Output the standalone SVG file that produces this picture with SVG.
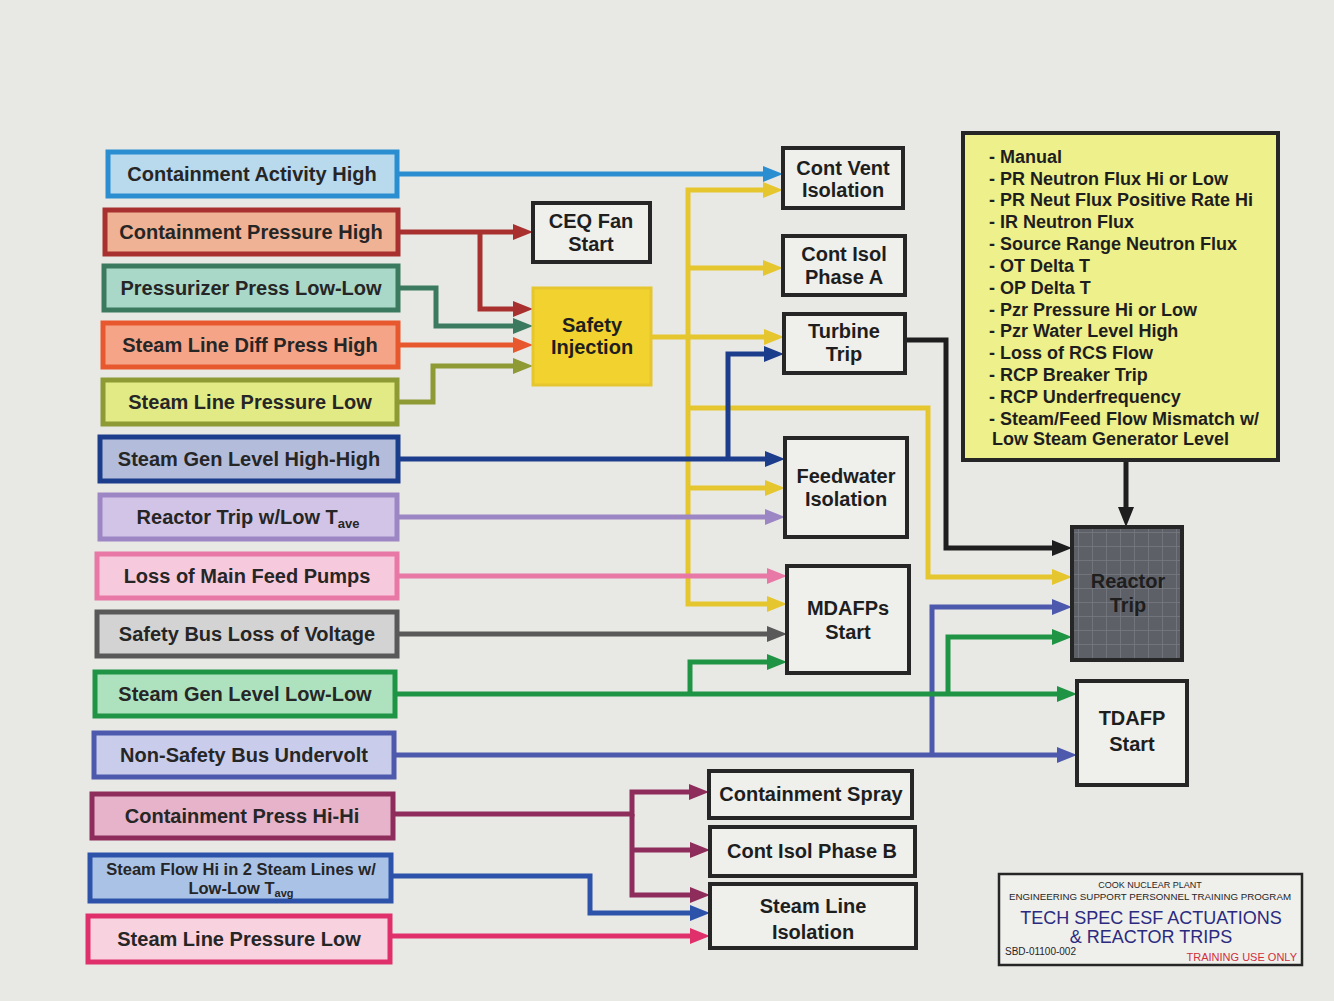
<svg xmlns="http://www.w3.org/2000/svg" width="1334" height="1001" viewBox="0 0 1334 1001">
<defs>
<style>
text{font-family:"Liberation Sans",Arial,sans-serif;font-weight:bold;fill:#262626}
.lbl{font-size:20px;text-anchor:middle}
.sm{font-size:16.5px;text-anchor:middle}
.box{font-size:20px;text-anchor:middle;fill:#1e1e1e}
.in{stroke-width:5}
.out{fill:#efefec;stroke:#262626;stroke-width:4}
.c{fill:none;stroke-width:5;stroke-linejoin:miter}
.lst{font-size:18px;fill:#1e1e1e}
.tb{font-weight:normal;text-anchor:middle}
</style>
<pattern id="grid" width="14" height="14" patternUnits="userSpaceOnUse">
<rect width="14" height="14" fill="#5e6068"/>
<path d="M0,0.5H14M0.5,0V14" stroke="#767880" stroke-width="0.8"/>
</pattern>
<marker id="mBlue" markerUnits="userSpaceOnUse" markerWidth="20" markerHeight="16" refX="6" refY="8" orient="auto"><path d="M0,0L20,8L0,16z" fill="#2b8ed0"/></marker>
<marker id="mRed" markerUnits="userSpaceOnUse" markerWidth="20" markerHeight="16" refX="6" refY="8" orient="auto"><path d="M0,0L20,8L0,16z" fill="#a8302e"/></marker>
<marker id="mTeal" markerUnits="userSpaceOnUse" markerWidth="20" markerHeight="16" refX="6" refY="8" orient="auto"><path d="M0,0L20,8L0,16z" fill="#3b7a5e"/></marker>
<marker id="mOrange" markerUnits="userSpaceOnUse" markerWidth="20" markerHeight="16" refX="6" refY="8" orient="auto"><path d="M0,0L20,8L0,16z" fill="#e8582e"/></marker>
<marker id="mOlive" markerUnits="userSpaceOnUse" markerWidth="20" markerHeight="16" refX="6" refY="8" orient="auto"><path d="M0,0L20,8L0,16z" fill="#8e9a34"/></marker>
<marker id="mYellow" markerUnits="userSpaceOnUse" markerWidth="20" markerHeight="16" refX="6" refY="8" orient="auto"><path d="M0,0L20,8L0,16z" fill="#e6c62e"/></marker>
<marker id="mNavy" markerUnits="userSpaceOnUse" markerWidth="20" markerHeight="16" refX="6" refY="8" orient="auto"><path d="M0,0L20,8L0,16z" fill="#1c3c8c"/></marker>
<marker id="mLav" markerUnits="userSpaceOnUse" markerWidth="20" markerHeight="16" refX="6" refY="8" orient="auto"><path d="M0,0L20,8L0,16z" fill="#9d86c4"/></marker>
<marker id="mPink" markerUnits="userSpaceOnUse" markerWidth="20" markerHeight="16" refX="6" refY="8" orient="auto"><path d="M0,0L20,8L0,16z" fill="#e878a6"/></marker>
<marker id="mGray" markerUnits="userSpaceOnUse" markerWidth="20" markerHeight="16" refX="6" refY="8" orient="auto"><path d="M0,0L20,8L0,16z" fill="#595959"/></marker>
<marker id="mGreen" markerUnits="userSpaceOnUse" markerWidth="20" markerHeight="16" refX="6" refY="8" orient="auto"><path d="M0,0L20,8L0,16z" fill="#1f9444"/></marker>
<marker id="mBlue2" markerUnits="userSpaceOnUse" markerWidth="20" markerHeight="16" refX="6" refY="8" orient="auto"><path d="M0,0L20,8L0,16z" fill="#4d59ac"/></marker>
<marker id="mMaroon" markerUnits="userSpaceOnUse" markerWidth="20" markerHeight="16" refX="6" refY="8" orient="auto"><path d="M0,0L20,8L0,16z" fill="#8e2c5c"/></marker>
<marker id="mBlue3" markerUnits="userSpaceOnUse" markerWidth="20" markerHeight="16" refX="6" refY="8" orient="auto"><path d="M0,0L20,8L0,16z" fill="#2c52aa"/></marker>
<marker id="mCrimson" markerUnits="userSpaceOnUse" markerWidth="20" markerHeight="16" refX="6" refY="8" orient="auto"><path d="M0,0L20,8L0,16z" fill="#e0306c"/></marker>
<marker id="mBlack" markerUnits="userSpaceOnUse" markerWidth="20" markerHeight="16" refX="6" refY="8" orient="auto"><path d="M0,0L20,8L0,16z" fill="#1e1e1e"/></marker>
</defs>
<rect width="1334" height="1001" fill="#e8e8e5"/>

<g id="connectors">
<path class="c" stroke="#2b8ed0" d="M397,174H769" marker-end="url(#mBlue)"/>
<path class="c" stroke="#a8302e" d="M398,232H519" marker-end="url(#mRed)"/>
<path class="c" stroke="#a8302e" d="M480,232V309H519" marker-end="url(#mRed)"/>
<path class="c" stroke="#3b7a5e" d="M398,288H436V326H519" marker-end="url(#mTeal)"/>
<path class="c" stroke="#e8582e" d="M398,345H519" marker-end="url(#mOrange)"/>
<path class="c" stroke="#8e9a34" d="M397,402H433V366H519" marker-end="url(#mOlive)"/>
<path class="c" stroke="#e6c62e" d="M651,337H770" marker-end="url(#mYellow)"/>
<path class="c" stroke="#e6c62e" d="M688,337V190H769" marker-end="url(#mYellow)"/>
<path class="c" stroke="#e6c62e" d="M688,268H769" marker-end="url(#mYellow)"/>
<path class="c" stroke="#e6c62e" d="M688,337V604H773" marker-end="url(#mYellow)"/>
<path class="c" stroke="#e6c62e" d="M688,488H771" marker-end="url(#mYellow)"/>
<path class="c" stroke="#e6c62e" d="M688,408H928V577H1058" marker-end="url(#mYellow)"/>
<path class="c" stroke="#1e1e1e" d="M905,340H946V548H1058" marker-end="url(#mBlack)"/>
<path class="c" stroke="#1e1e1e" d="M1126,460V513" marker-end="url(#mBlack)"/>
<path class="c" stroke="#1c3c8c" d="M398,459H771" marker-end="url(#mNavy)"/>
<path class="c" stroke="#1c3c8c" d="M728,459V354H770" marker-end="url(#mNavy)"/>
<path class="c" stroke="#9d86c4" d="M397,517H771" marker-end="url(#mLav)"/>
<path class="c" stroke="#e878a6" d="M397,576H773" marker-end="url(#mPink)"/>
<path class="c" stroke="#595959" d="M397,634H773" marker-end="url(#mGray)"/>
<path class="c" stroke="#4d59ac" d="M394,755H1063" marker-end="url(#mBlue2)"/>
<path class="c" stroke="#4d59ac" d="M932,755V607H1058" marker-end="url(#mBlue2)"/>
<path class="c" stroke="#1f9444" d="M395,694H1063" marker-end="url(#mGreen)"/>
<path class="c" stroke="#1f9444" d="M690,694V662H773" marker-end="url(#mGreen)"/>
<path class="c" stroke="#1f9444" d="M948,694V637H1058" marker-end="url(#mGreen)"/>
<path class="c" stroke="#8e2c5c" d="M393,814H632V792H695" marker-end="url(#mMaroon)"/>
<path class="c" stroke="#8e2c5c" d="M632,814V895H696" marker-end="url(#mMaroon)"/>
<path class="c" stroke="#8e2c5c" d="M632,850H696" marker-end="url(#mMaroon)"/>
<path class="c" stroke="#2c52aa" d="M391,876H590V913H696" marker-end="url(#mBlue3)"/>
<path class="c" stroke="#e0306c" d="M390,936H696" marker-end="url(#mCrimson)"/>
</g>

<g id="in-containment-activity-high"><rect class="in" x="108" y="152" width="289" height="44" fill="#b9d9ec" stroke="#2b8ed0"/><text class="lbl" x="252" y="181">Containment Activity High</text></g>
<g id="in-containment-pressure-high"><rect class="in" x="105" y="210" width="293" height="44" fill="#f0b294" stroke="#a8302e"/><text class="lbl" x="251" y="239">Containment Pressure High</text></g>
<g id="in-pressurizer-press-low-low"><rect class="in" x="104" y="266" width="294" height="44" fill="#a9d8c9" stroke="#3b7a5e"/><text class="lbl" x="251" y="295">Pressurizer Press Low-Low</text></g>
<g id="in-steam-line-diff-press-high"><rect class="in" x="103" y="323" width="295" height="44" fill="#f5a487" stroke="#e8582e"/><text class="lbl" x="250" y="352">Steam Line Diff Press High</text></g>
<g id="in-steam-line-pressure-low"><rect class="in" x="103" y="380" width="294" height="44" fill="#e2ea86" stroke="#8e9a34"/><text class="lbl" x="250" y="409">Steam Line Pressure Low</text></g>
<g id="in-steam-gen-level-high-high"><rect class="in" x="100" y="437" width="298" height="44" fill="#b4bcdc" stroke="#1c3c8c"/><text class="lbl" x="249" y="466">Steam Gen Level High-High</text></g>
<g id="in-reactor-trip-low-tave"><rect class="in" x="100" y="495" width="297" height="44" fill="#d2c4e6" stroke="#9d86c4"/><text class="lbl" x="248" y="524">Reactor Trip w/Low T<tspan font-size="13" dy="4">ave</tspan></text></g>
<g id="in-loss-of-main-feed-pumps"><rect class="in" x="97" y="554" width="300" height="44" fill="#f7c9dc" stroke="#e878a6"/><text class="lbl" x="247" y="583">Loss of Main Feed Pumps</text></g>
<g id="in-safety-bus-loss-of-voltage"><rect class="in" x="97" y="612" width="300" height="44" fill="#d3d3d3" stroke="#595959"/><text class="lbl" x="247" y="641">Safety Bus Loss of Voltage</text></g>
<g id="in-steam-gen-level-low-low"><rect class="in" x="95" y="672" width="300" height="44" fill="#aee2bf" stroke="#1f9444"/><text class="lbl" x="245" y="701">Steam Gen Level Low-Low</text></g>
<g id="in-non-safety-bus-undervolt"><rect class="in" x="94" y="733" width="300" height="44" fill="#c9cdeb" stroke="#4d59ac"/><text class="lbl" x="244" y="762">Non-Safety Bus Undervolt</text></g>
<g id="in-containment-press-hi-hi"><rect class="in" x="92" y="794" width="301" height="44" fill="#e6b3ca" stroke="#8e2c5c"/><text class="lbl" x="242" y="823">Containment Press Hi-Hi</text></g>
<g id="in-steam-flow-hi"><rect class="in" x="90" y="855" width="301" height="46" fill="#a9c2e6" stroke="#2c52aa"/><text class="sm" x="241" y="875">Steam Flow Hi in 2 Steam Lines w/</text><text class="sm" x="241" y="894">Low-Low T<tspan font-size="11" dy="3">avg</tspan></text></g>
<g id="in-steam-line-pressure-low-2"><rect class="in" x="88" y="916" width="302" height="46" fill="#f8d2de" stroke="#e0306c"/><text class="lbl" x="239" y="946">Steam Line Pressure Low</text></g>

<g id="ceq-fan-start"><rect class="out" x="533" y="203" width="117" height="59"/><text class="box" x="591" y="228">CEQ Fan</text><text class="box" x="591" y="251">Start</text></g>
<g id="safety-injection"><rect x="533" y="288" width="118" height="97" fill="#f2d22e" stroke="#e6c62e" stroke-width="3"/><text class="box" x="592" y="332">Safety</text><text class="box" x="592" y="354">Injection</text></g>
<g id="cont-vent-isolation"><rect class="out" x="783" y="148" width="120" height="60"/><text class="box" x="843" y="175">Cont Vent</text><text class="box" x="843" y="197">Isolation</text></g>
<g id="cont-isol-phase-a"><rect class="out" x="783" y="236" width="122" height="59"/><text class="box" x="844" y="261">Cont Isol</text><text class="box" x="844" y="284">Phase A</text></g>
<g id="turbine-trip"><rect class="out" x="784" y="314" width="121" height="59"/><text class="box" x="844" y="338">Turbine</text><text class="box" x="844" y="361">Trip</text></g>
<g id="feedwater-isolation"><rect class="out" x="785" y="438" width="122" height="99"/><text class="box" x="846" y="483">Feedwater</text><text class="box" x="846" y="506">Isolation</text></g>
<g id="mdafps-start"><rect class="out" x="787" y="566" width="122" height="107"/><text class="box" x="848" y="615">MDAFPs</text><text class="box" x="848" y="639">Start</text></g>
<g id="reactor-trip"><rect x="1072" y="527" width="110" height="133" fill="url(#grid)" stroke="#262626" stroke-width="4"/><text class="box" x="1128" y="588">Reactor</text><text class="box" x="1128" y="612">Trip</text></g>
<g id="tdafp-start"><rect class="out" x="1077" y="681" width="110" height="104"/><text class="box" x="1132" y="725">TDAFP</text><text class="box" x="1132" y="751">Start</text></g>
<g id="containment-spray"><rect class="out" x="709" y="771" width="203" height="47"/><text class="box" x="811" y="801">Containment Spray</text></g>
<g id="cont-isol-phase-b"><rect class="out" x="710" y="827" width="205" height="49"/><text class="box" x="812" y="858">Cont Isol Phase B</text></g>
<g id="steam-line-isolation"><rect class="out" x="710" y="884" width="206" height="64"/><text class="box" x="813" y="913">Steam Line</text><text class="box" x="813" y="939">Isolation</text></g>

<g id="reactor-trip-list">
<rect x="963" y="133" width="315" height="327" fill="#eef08c" stroke="#262626" stroke-width="4"/>
<text class="lst" x="989" y="163">- Manual</text>
<text class="lst" x="989" y="185">- PR Neutron Flux Hi or Low</text>
<text class="lst" x="989" y="206">- PR Neut Flux Positive Rate Hi</text>
<text class="lst" x="989" y="228">- IR Neutron Flux</text>
<text class="lst" x="989" y="250">- Source Range Neutron Flux</text>
<text class="lst" x="989" y="272">- OT Delta T</text>
<text class="lst" x="989" y="294">- OP Delta T</text>
<text class="lst" x="989" y="316">- Pzr Pressure Hi or Low</text>
<text class="lst" x="989" y="337">- Pzr Water Level High</text>
<text class="lst" x="989" y="359">- Loss of RCS Flow</text>
<text class="lst" x="989" y="381">- RCP Breaker Trip</text>
<text class="lst" x="989" y="403">- RCP Underfrequency</text>
<text class="lst" x="989" y="425">- Steam/Feed Flow Mismatch w/</text>
<text class="lst" x="992" y="445">Low Steam Generator Level</text>
</g>

<g id="title-block">
<rect x="999" y="874" width="303" height="91" fill="#efefec" stroke="#262626" stroke-width="2.5"/>
<text class="tb" x="1150" y="888" style="font-size:9px">COOK NUCLEAR PLANT</text>
<text class="tb" x="1150" y="900" style="font-size:9.5px" textLength="282" lengthAdjust="spacingAndGlyphs">ENGINEERING SUPPORT PERSONNEL TRAINING PROGRAM</text>
<text class="tb" x="1151" y="924" style="font-size:18px;fill:#2a2a80">TECH SPEC ESF ACTUATIONS</text>
<text class="tb" x="1151" y="943" style="font-size:18px;fill:#2a2a80">&amp; REACTOR TRIPS</text>
<text x="1005" y="955" style="font-size:10px;font-weight:normal">SBD-01100-002</text>
<text x="1297" y="961" style="font-size:11px;font-weight:normal;text-anchor:end;fill:#d0303c">TRAINING USE ONLY</text>
</g>
</svg>
